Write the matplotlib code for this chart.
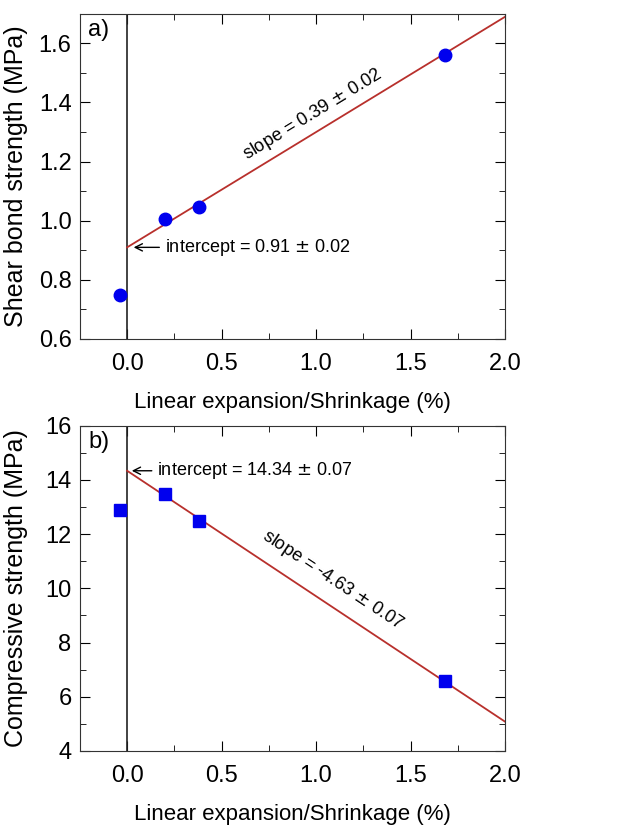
import numpy as np
import matplotlib.pyplot as plt
from matplotlib.ticker import MultipleLocator

plt.rcParams['font.family'] = ['Liberation Sans', 'DejaVu Sans']

# data
expansion = [-0.04, 0.20, 0.38, 1.68]
shear_bond = [0.75, 1.005, 1.045, 1.56]
compressive = [12.9, 13.5, 12.5, 6.6]

shear_fit = (0.91, 0.39)        # intercept, slope
comp_fit = (14.34, -4.63)

fig = plt.figure(figsize=(6.19, 8.36), dpi=100)
ax1 = fig.add_axes([0.129, 0.5945, 0.687, 0.389])
ax2 = fig.add_axes([0.129, 0.1017, 0.687, 0.389])

xfit = np.array([0.0, 2.0])

def style(ax, ylim, major, minor):
    ax.set_xlim(-0.25, 2.0)
    ax.set_ylim(*ylim)
    ax.xaxis.set_major_locator(MultipleLocator(0.5))
    ax.xaxis.set_minor_locator(MultipleLocator(0.25))
    ax.yaxis.set_major_locator(MultipleLocator(major))
    ax.yaxis.set_minor_locator(MultipleLocator(minor))
    ax.tick_params(which='both', direction='in', top=True, right=True, labelsize=17)
    ax.tick_params(axis='x', pad=10)
    ax.tick_params(axis='y', pad=6)
    ax.tick_params(which='major', length=7)
    ax.tick_params(which='minor', length=4)
    ax.axvline(0, color='#222222', lw=1.2)
    ax.set_xlabel('Linear expansion/Shrinkage (%)', fontsize=16, labelpad=12)
    for s in ax.spines.values():
        s.set_color('#333333')

# --- a) shear bond strength ---
style(ax1, (0.6, 1.7), 0.2, 0.1)
ax1.plot(xfit, shear_fit[0] + shear_fit[1] * xfit, color='#b8302c', lw=1.3)
ax1.plot(expansion, shear_bond, 'o', color='#0000ee', ms=9, zorder=3)
ax1.set_ylabel('Shear bond strength (MPa)', fontsize=18)
ax1.yaxis.set_label_coords(-0.122, 0.5)
ax1.yaxis.set_major_formatter(plt.FormatStrFormatter('%.1f'))
ax1.text(0.02, 0.985, 'a)', transform=ax1.transAxes, fontsize=17, va='top')
ax1.annotate('intercept = 0.91 $\\pm$ 0.02', xy=(0.02, 0.91), xytext=(0.2, 0.91),
             fontsize=13, va='center',
             arrowprops=dict(arrowstyle='->', color='black', lw=1))
ax1.text(0.98, 1.36, 'slope = 0.39 $\\pm$ 0.02', fontsize=13, ha='center', va='center',
         rotation=np.degrees(np.arctan(shear_fit[1])), transform_rotates_text=True,
         rotation_mode='anchor')

# --- b) compressive strength ---
style(ax2, (4, 16), 2, 1)
ax2.plot(xfit, comp_fit[0] + comp_fit[1] * xfit, color='#b8302c', lw=1.3)
ax2.plot(expansion, compressive, 's', color='#0000ee', ms=8.5, zorder=3)
ax2.set_ylabel('Compressive strength (MPa)', fontsize=18)
ax2.yaxis.set_label_coords(-0.122, 0.5)
ax2.text(0.02, 0.985, 'b)', transform=ax2.transAxes, fontsize=17, va='top')
ax2.annotate('intercept = 14.34 $\\pm$ 0.07', xy=(0.01, 14.34), xytext=(0.16, 14.34),
             fontsize=13, va='center',
             arrowprops=dict(arrowstyle='->', color='black', lw=1))
ax2.text(1.09, 10.3, 'slope = -4.63 $\\pm$ 0.07', fontsize=13, ha='center', va='center',
         rotation=np.degrees(np.arctan(comp_fit[1])), transform_rotates_text=True,
         rotation_mode='anchor')

fig.savefig('out.png', dpi=100)
